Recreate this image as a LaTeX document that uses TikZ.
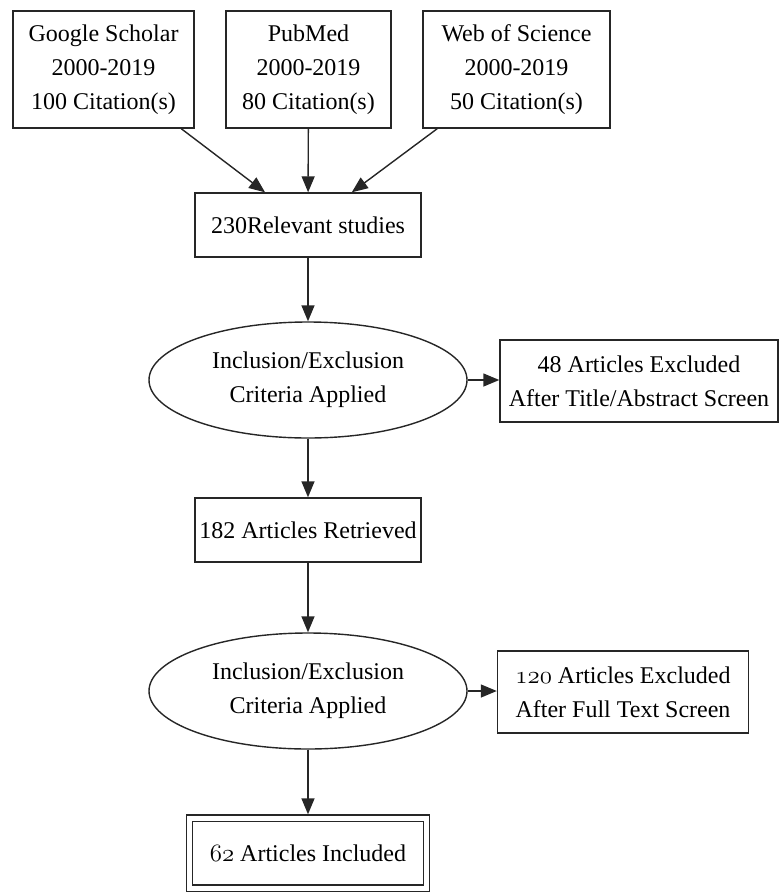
\documentclass[tikz,border=0pt]{standalone}
\usepackage{fontspec}
\setmainfont{Liberation Serif}
\usetikzlibrary{arrows.meta,shapes.geometric}
\newcommand{\osnum}[1]{{\usefont{OML}{cmm}{m}{it}#1}}
\begin{document}
\begin{tikzpicture}[x=1pt,y=-1pt,
  every node/.style={font=\fontsize{24}{34}\selectfont, align=center, inner sep=0pt, line width=1.4pt, draw=black!85},
  boxnode/.style={rectangle},
  ellnode/.style={ellipse, minimum width=318pt, minimum height=116pt},
  arr/.style={-{Triangle[length=16pt,width=13pt]}, line width=1.4pt, draw=black!85, fill=black}]
\useasboundingbox (0,0) rectangle (782,892);

\node[boxnode, minimum width=181pt, minimum height=117pt] (G) at (103.5,69.5) {Google Scholar\\2000-2019\\100 Citation(s)};
\node[boxnode, minimum width=165pt, minimum height=117pt] (P) at (308.5,69.5) {PubMed\\2000-2019\\80 Citation(s)};
\node[boxnode, minimum width=187pt, minimum height=117pt] (W) at (516.5,69.5) {Web of Science\\2000-2019\\50 Citation(s)};
\node[boxnode, minimum width=226pt, minimum height=64pt] (R) at (308,225) {230Relevant studies};
\node[ellnode] (E1) at (308,380) {Inclusion/Exclusion\\Criteria Applied};
\node[boxnode, minimum width=278pt, minimum height=82pt] (X1) at (639,381) {48 Articles Excluded\\After Title/Abstract Screen};
\node[boxnode, minimum width=226pt, minimum height=64pt] (A) at (308,530) {182 Articles Retrieved};
\node[ellnode] (E2) at (308,691) {Inclusion/Exclusion\\Criteria Applied};
\node[boxnode, minimum width=251pt, minimum height=82pt] (X2) at (623,692) {\osnum{120} Articles Excluded\\After Full Text Screen};
\node[boxnode, double, double distance=5pt, minimum width=237pt, minimum height=70pt] (F) at (308,853) {\osnum{62} Articles Included};

\draw[arr] (G) -- (R);
\draw[arr] (P) -- (R);
\draw[arr] (W) -- (R);
\draw[arr] (R) -- (E1);
\draw[arr] (E1) -- (X1.west |- E1);
\draw[arr] (E1) -- (A);
\draw[arr] (A) -- (E2);
\draw[arr] (E2) -- (X2.west |- E2);
\draw[arr, shorten >=3pt] (E2) -- (F);
\end{tikzpicture}
\end{document}
